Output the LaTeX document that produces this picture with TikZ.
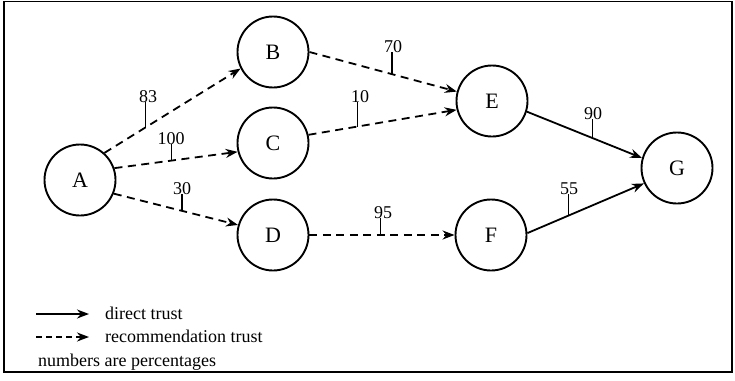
\documentclass[tikz,border=0pt]{standalone}
\usepackage{fontspec}
\setmainfont{Liberation Serif}
\usetikzlibrary{arrows.meta}
\tikzset{
  agent/.style={circle, draw, line width=1.9pt, minimum size=71pt, inner sep=0pt, font=\fontsize{22}{24}\selectfont},
  direct/.style={line width=1.8pt, -{Stealth[length=12pt,width=9pt]}},
  recommend/.style={direct, dash pattern=on 8pt off 5.5pt},
  pct/.style={inner sep=0pt, font=\fontsize{18}{20}\selectfont, anchor=base},
  tick/.style={line width=1.2pt},
  legend/.style={inner sep=0pt, anchor=base west, font=\fontsize{18}{20}\selectfont}
}
\begin{document}
\begin{tikzpicture}[x=1pt,y=-1pt]
\useasboundingbox (0,0) rectangle (735,380);
\draw[line width=1.8pt] (4,1.5) rectangle (732,372);

% agents
\node[agent] (A) at (80,180) {A};
\node[agent] (B) at (273,52) {B};
\node[agent] (C) at (273,143) {C};
\node[agent] (D) at (273,235) {D};
\node[agent] (E) at (492,101) {E};
\node[agent] (F) at (491,235) {F};
\node[agent] (G) at (677,168) {G};

% trust relations
\draw[recommend] (A.48)  -- coordinate[pos=0.30] (tAB) (B.207);
\draw[recommend] (A.19)  -- coordinate[pos=0.46] (tAC) (C.194);
\draw[recommend] (A.338) -- coordinate[pos=0.55] (tAD) (D.164);
\draw[recommend] (B.0)   -- coordinate[pos=0.56] (tBE) (E.165);
\draw[recommend] (C.13)  -- coordinate[pos=0.33] (tCE) (E.194);
\draw[recommend] (D.0)   -- coordinate[pos=0.49] (tDF) (F.180);
\draw[direct]    (E.343) -- coordinate[pos=0.57] (tEG) (G.164);
\draw[direct]    (F.3)   -- coordinate[pos=0.35] (tFG) (G.205);

% percentages with their tick marks
\node[pct] (n83)  at (148,102) {83};
\node[pct] (n100) at (171,144) {100};
\node[pct] (n30)  at (182,194) {30};
\node[pct] (n70)  at (393,52)  {70};
\node[pct] (n10)  at (360,102) {10};
\node[pct] (n90)  at (593,119) {90};
\node[pct] (n55)  at (569,194) {55};
\node[pct] (n95)  at (383,218) {95};
\draw[tick] (tAB) -- (tAB |- n83.south);
\draw[tick] (tAC) -- (tAC |- n100.south);
\draw[tick] (tAD) -- (tAD |- n30.south);
\draw[tick] (tBE) -- (tBE |- n70.south);
\draw[tick] (tCE) -- (tCE |- n10.south);
\draw[tick] (tEG) -- (tEG |- n90.south);
\draw[tick] (tFG) -- (tFG |- n55.south);
\draw[tick] (tDF) -- (tDF |- n95.south);

% legend
\coordinate (l1s) at (36,314);
\coordinate (l1e) at (89,314);
\coordinate (l2s) at (36,337);
\coordinate (l2e) at (89,337);
\draw[direct] (l1s) -- (l1e);
\draw[recommend, dash pattern=on 6pt off 4pt] (l2s) -- (l2e);
\node[legend] (k1) at (105,319) {direct trust};
\node[legend] (k2) at (105,342) {recommendation trust};
\node[legend] (k3) at (38,366) {numbers are percentages};
\end{tikzpicture}
\end{document}
